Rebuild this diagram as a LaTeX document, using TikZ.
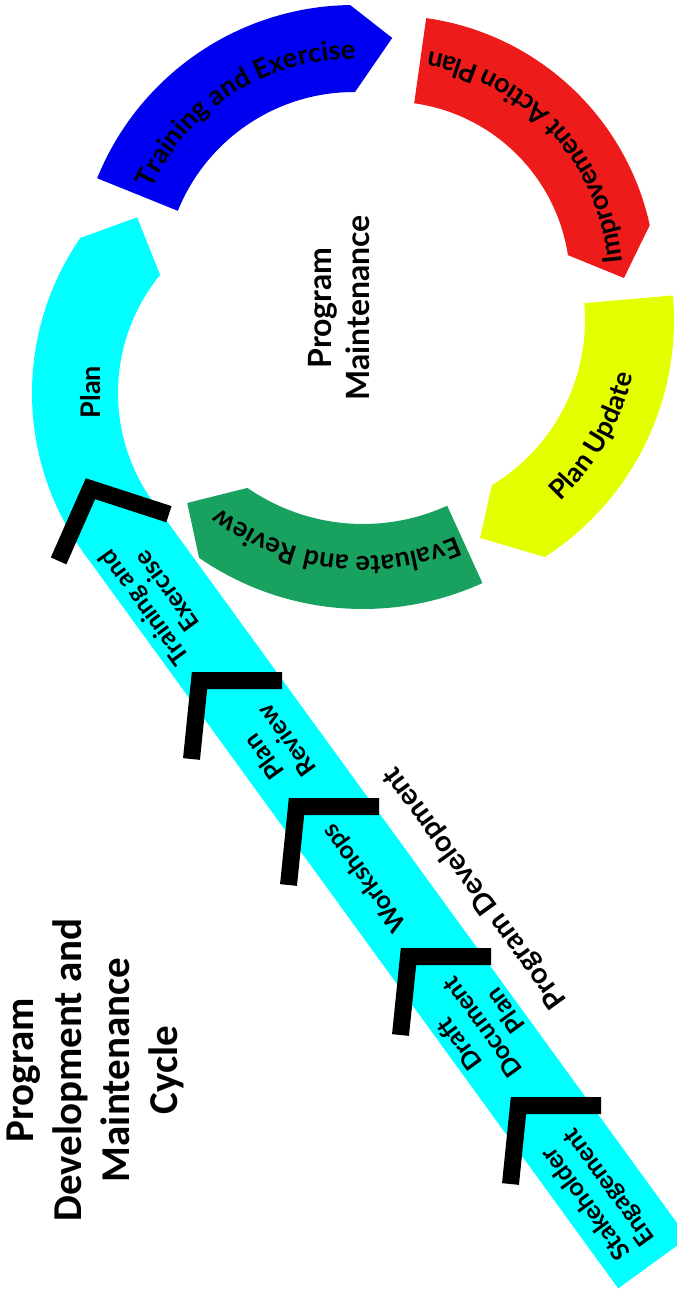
\documentclass[tikz,border=0pt]{standalone}
\usepackage{fontspec}
\setmainfont{Lato}
\newfontfamily\titlefont{Carlito}
\usetikzlibrary{decorations.text}
\definecolor{plancyan}{HTML}{00FFFF}
\definecolor{trainblue}{HTML}{0000F0}
\definecolor{improvred}{HTML}{EE1B1B}
\definecolor{updateyellow}{HTML}{E4FF00}
\definecolor{evalgreen}{HTML}{18A15F}
\newcommand\seglblfont{\fontsize{27}{31}\selectfont\bfseries}
\newcommand\bandlblfont{\fontsize{25}{28.5}\selectfont\bfseries}
\tikzset{
  seglbl/.style={font=\seglblfont, inner sep=0pt},
  bandlbl/.style={font=\bandlblfont, align=center, rotate=126, inner sep=0pt},
  chevbar/.style={black, line width=17pt, line join=miter},
  chevron/.pic={\draw[chevbar] (91,-8.5) -- (8.5,-8.5) -- (0.5,-87);},
  arclbl/.style={decorate, decoration={text along path, text align=center, text={|\seglblfont|#1}}}
}
\begin{document}
\begin{tikzpicture}[x=1pt,y=1pt]
\useasboundingbox (0,0) rectangle (677,-1296);
\clip (0,0) rectangle (677,-1296);
\fill[white] (0,0) rectangle (677,-1296);
\coordinate (cplan) at (305,-393);
\coordinate (ctrain) at (354,-282);
\coordinate (cimprove) at (389,-282.5);
\coordinate (cupdate) at (392,-320);
\coordinate (ceval) at (363,-321);
\coordinate (bandtop) at (116.6,-525);
\coordinate (bandend) at (653,-1263.1);
% maintenance ring
\fill[plancyan, shift={(cplan)}] (145.4:273) arc[start angle=145.4, end angle=217, radius=273]
  -- (217:187) arc[start angle=217, end angle=140.8, radius=187] -- (133.7:243) -- cycle;
\draw[plancyan, line width=86pt] (bandtop) -- (bandend);
\fill[trainblue, shift={(ctrain)}] (158:277) arc[start angle=158, end angle=90.8, radius=277]
  -- (81.1:247) -- (89.7:190) arc[start angle=89.7, end angle=158, radius=190] -- cycle;
\fill[improvred, shift={(cimprove)}] (82:267) arc[start angle=82, end angle=12.4, radius=267]
  -- (1.1:235) -- (8.7:181) arc[start angle=8.7, end angle=82, radius=181] -- cycle;
\fill[updateyellow, shift={(cupdate)}] (5:282) arc[start angle=5, end angle=-57.2, radius=282]
  -- (-68:235) -- (-58.8:193) arc[start angle=-58.8, end angle=5, radius=193] -- cycle;
\fill[evalgreen, shift={(ceval)}] (-65.5:288) arc[start angle=-65.5, end angle=-124.7, radius=288]
  -- (-134:253) -- (-124.7:203) arc[start angle=-124.7, end angle=-65.5, radius=203] -- cycle;
\path[shift={(ctrain)}, arclbl={Training and Exercise}] (175:223) arc[start angle=175, end angle=70, radius=223];
\path[shift={(cimprove)}, arclbl={Improvement Action Plan}] (-10:234) arc[start angle=-10, end angle=95, radius=234];
\path[shift={(cupdate)}, arclbl={Plan Update}] (-80:247) arc[start angle=-80, end angle=20, radius=247];
\path[shift={(ceval)}, arclbl={Evaluate and Review}] (-55:235) arc[start angle=-55, end angle=-139, radius=235];
\node[seglbl, rotate=90] (plan) at (91,-392) {Plan};
\node[seglbl, font=\fontsize{32}{38}\selectfont\bfseries, align=center, rotate=90] (maint) at (339,-308) {Program\\Maintenance};
% development steps
\coordinate (chevA) at (85,-478);
\coordinate (chevB) at (191,-672);
\coordinate (chevC) at (288,-798);
\coordinate (chevD) at (400,-948);
\coordinate (chevE) at (510,-1097);
\foreach \c/\ang in {chevA/-18,chevB/0,chevC/0,chevD/0,chevE/0}
  \pic[rotate=\ang] at (\c) {chevron};
\node[bandlbl] (trainex) at (155,-600) {Training and\\Exercise};
\node[bandlbl] (planrev) at (275,-749) {Plan\\Review};
\node[bandlbl] (workshops) at (365,-878) {Workshops};
\node[bandlbl] (draftdoc) at (482,-1028) {Draft\\Document\\Plan};
\node[bandlbl] (stakeeng) at (598,-1195) {Stakeholder\\Engagement};
\node[font=\fontsize{29}{33}\selectfont\bfseries, rotate=126] (progdev) at (475,-888) {Program Development};
\node[font=\titlefont\fontsize{41}{48}\selectfont\bfseries, align=center, rotate=90] (title) at (95,-1070) {Program\\Development and\\Maintenance\\Cycle};
\end{tikzpicture}
\end{document}
